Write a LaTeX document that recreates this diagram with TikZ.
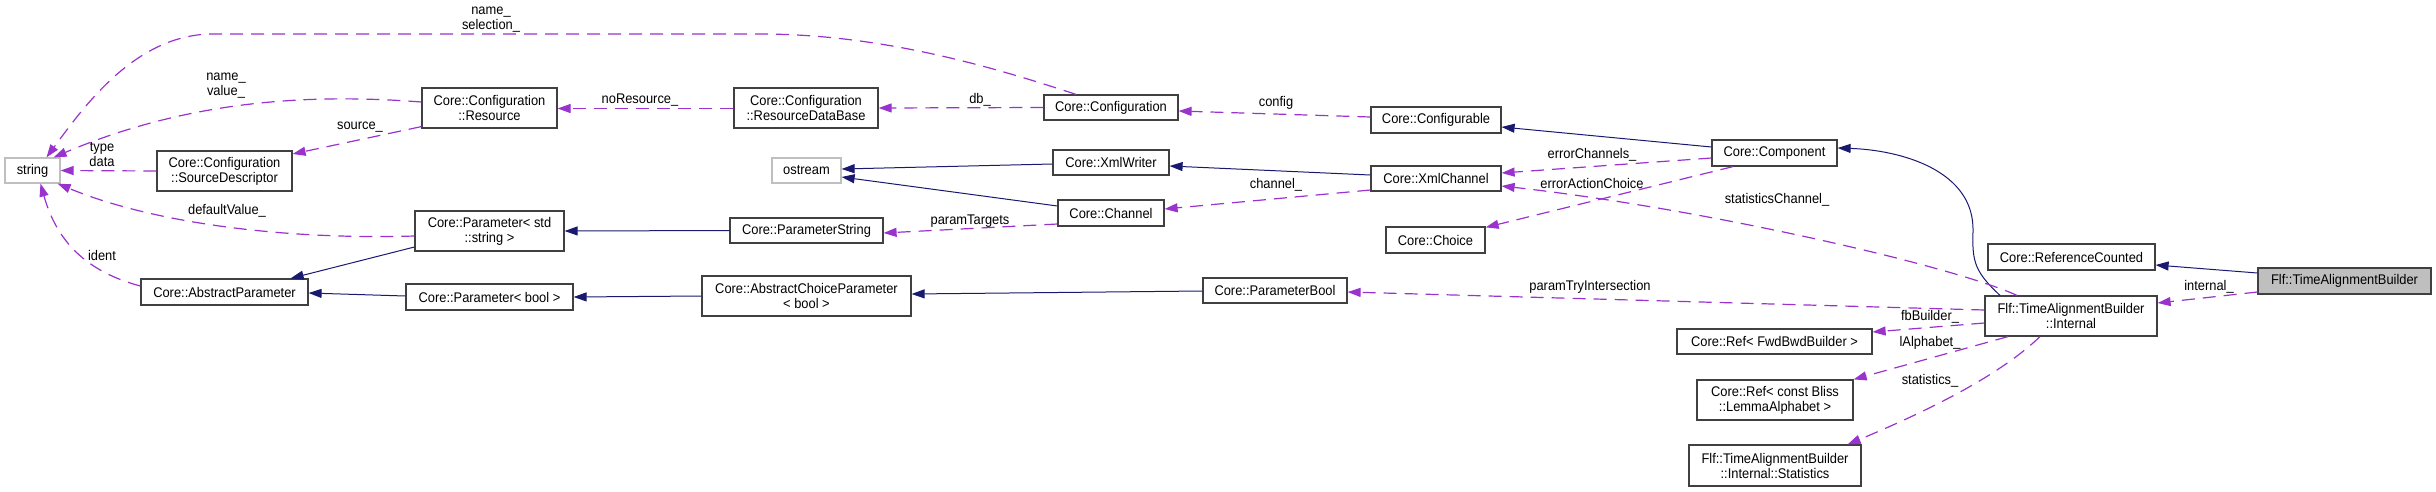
\documentclass[tikz,border=0pt]{standalone}
\usepackage{fontspec}
\setmainfont{Liberation Sans}[FakeStretch=0.92]
\usetikzlibrary{arrows.meta,calc}
\definecolor{edgeblue}{HTML}{191970}
\definecolor{edgepurple}{HTML}{9A32CD}
\definecolor{boxgray}{HTML}{BFBFBF}
\definecolor{boxline}{HTML}{404040}
\newcommand{\nf}{\fontsize{14}{15}\selectfont}
\tikzset{
  box/.style={draw=boxline, line width=1.2pt, fill=white, inner sep=0pt, align=center, font=\nf},
  graybox/.style={box, draw=boxgray},
  inh/.style={draw=edgeblue, line width=1pt, -{Triangle[length=13pt,width=9pt]}},
  use/.style={draw=edgepurple, line width=1.2pt, dash pattern=on 13pt off 8pt, -{Triangle[length=13pt,width=9pt]}},
  lbl/.style={font=\nf, align=center, inner sep=0pt},
}
\begin{document}
\begin{tikzpicture}[x=1pt,y=-1pt]
\useasboundingbox (0,0) rectangle (2436,491);
% nodes
\node[graybox, minimum width=55pt, minimum height=25pt] (str) at (32.5,170.5) {string};
\node[box, minimum width=135pt, minimum height=40pt] (srcd) at (224.5,171) {Core::Configuration\\::SourceDescriptor};
\node[box, minimum width=135pt, minimum height=40pt] (res) at (489.5,108) {Core::Configuration\\::Resource};
\node[box, minimum width=144pt, minimum height=40pt] (rdb) at (806,108) {Core::Configuration\\::ResourceDataBase};
\node[box, minimum width=134pt, minimum height=25pt] (conf) at (1111,107.5) {Core::Configuration};
\node[box, minimum width=130pt, minimum height=26pt] (cfgb) at (1436,120) {Core::Configurable};
\node[box, minimum width=125pt, minimum height=26pt] (comp) at (1774.5,153) {Core::Component};
\node[graybox, minimum width=69pt, minimum height=25pt] (ostr) at (806.5,170.5) {ostream};
\node[box, minimum width=116pt, minimum height=25pt] (xmlw) at (1111,162.5) {Core::XmlWriter};
\node[box, minimum width=130pt, minimum height=25pt] (xmlc) at (1436,178.5) {Core::XmlChannel};
\node[box, minimum width=106pt, minimum height=26pt] (chan) at (1111,213) {Core::Channel};
\node[box, minimum width=99pt, minimum height=26pt] (choice) at (1435.5,240) {Core::Choice};
\node[box, minimum width=149pt, minimum height=40pt] (pstr) at (489.5,231) {Core::Parameter< std\\::string >};
\node[box, minimum width=153pt, minimum height=25pt] (pstring) at (806.5,230.5) {Core::ParameterString};
\node[box, minimum width=167pt, minimum height=26pt] (absp) at (224.5,292) {Core::AbstractParameter};
\node[box, minimum width=167pt, minimum height=26pt] (pbool) at (489.5,297) {Core::Parameter< bool >};
\node[box, minimum width=209pt, minimum height=40pt] (acp) at (806.5,296) {Core::AbstractChoiceParameter\\< bool >};
\node[box, minimum width=144pt, minimum height=25pt] (pb) at (1275,290.5) {Core::ParameterBool};
\node[box, minimum width=167pt, minimum height=26pt] (refc) at (2071.5,257) {Core::ReferenceCounted};
\node[box, fill=boxgray, minimum width=173pt, minimum height=26pt] (tab) at (2344.5,281) {Flf::TimeAlignmentBuilder};
\node[box, minimum width=172pt, minimum height=40pt] (intl) at (2071,316) {Flf::TimeAlignmentBuilder\\::Internal};
\node[box, minimum width=195pt, minimum height=25pt] (fwd) at (1774.5,341.5) {Core::Ref< FwdBwdBuilder >};
\node[box, minimum width=156pt, minimum height=40pt] (lem) at (1775,400) {Core::Ref< const Bliss\\::LemmaAlphabet >};
\node[box, minimum width=172pt, minimum height=41pt] (stats) at (1775,465.5) {Flf::TimeAlignmentBuilder\\::Internal::Statistics};
% inheritance edges
\draw[inh] ($(xmlw.west)+(0,1.5)$) -- ($(ostr.east)+(0,-1.5)$);
\draw[inh] ($(chan.west)+(0,-7)$) -- ($(ostr.east)+(0,6.5)$);
\draw[inh] ($(xmlc.west)+(0,-3.5)$) -- ($(xmlw.east)+(0,3.5)$);
\draw[inh] ($(comp.west)+(0,-6)$) -- ($(cfgb.east)+(0,7)$);
\draw[inh] ($(intl.north)+(-71,0)$) .. controls (1975,272) and (1972,262) .. (1973,232) .. controls (1975,170) and (1900,150) .. ($(comp.east)+(0,-5)$);
\draw[inh] ($(tab.west)+(0,-8)$) -- ($(refc.east)+(0,8)$);
\draw[inh] ($(pstr.west)+(0,16)$) -- ($(absp.north east)+(-18,0)$);
\draw[inh] ($(pbool.west)+(0,-1)$) -- ($(absp.east)+(0,1)$);
\draw[inh] (pstring.west) -- (pstr.east);
\draw[inh] (acp.west) -- (pbool.east);
\draw[inh] ($(pb.west)+(0,0.5)$) -- ($(acp.east)+(0,-2)$);
% usage edges
\draw[use] ($(conf.north)+(-35,0)$) .. controls (990,66) and (880,34) .. (760,34) -- (210,34) .. controls (135,36) and (85,105) .. ($(str.north)+(14,0)$);
\node[lbl] (l1) at (491,19.5) {name\_\\selection\_};
\draw[use] ($(res.west)+(0,-6)$) .. controls (330,95) and (200,95) .. ($(str.north east)+(-7,0)$);
\node[lbl] (l2) at (226,86) {name\_\\value\_};
\draw[use] ($(res.south west)+(0,-2)$) -- ($(srcd.east)+(0,-17)$);
\node[lbl] (l3) at (360,127) {source\_};
\draw[use] (srcd.west) -- (str.east);
\node[lbl] (l4) at (102,155) {type\\data};
\draw[use] ($(pstr.west)+(0,5)$) .. controls (280,240) and (150,222) .. ($(str.south east)+(-3,0)$);
\node[lbl] (l5) at (227,211) {defaultValue\_};
\draw[use] ($(absp.west)+(0,-6)$) .. controls (80,270) and (55,235) .. ($(str.south)+(8,0)$);
\node[lbl] (l6) at (102,255) {ident};
\draw[use] ($(rdb.west)+(0,0.5)$) -- ($(res.east)+(0,0.5)$);
\node[lbl] (l7) at (640,100) {noResource\_};
\draw[use] (conf.west) -- (rdb.east);
\node[lbl] (l8) at (980,100) {db\_};
\draw[use] ($(cfgb.west)+(0,-3)$) -- ($(conf.east)+(0,3.5)$);
\node[lbl] (l9) at (1276,103) {config};
\draw[use] ($(comp.west)+(0,5)$) -- ($(xmlc.east)+(0,-5.5)$);
\node[lbl] (l10) at (1592,155) {errorChannels\_};
\draw[use] ($(comp.south)+(-41.5,0)$) -- ($(choice.north east)+(0,1)$);
\node[lbl] (l11) at (1592,183) {errorActionChoice};
\draw[use] ($(intl.north)+(-54,0)$) .. controls (1950,265) and (1700,208) .. ($(xmlc.east)+(0,7.5)$);
\node[lbl] (l12) at (1777,200) {statisticsChannel\_};
\draw[use] ($(xmlc.west)+(0,11.5)$) -- ($(chan.east)+(0,-4)$);
\node[lbl] (l13) at (1276,185) {channel\_};
\draw[use] ($(chan.west)+(0,11)$) -- ($(pstring.east)+(0,2.5)$);
\node[lbl] (l14) at (970,221) {paramTargets};
\draw[use] ($(intl.west)+(0,-6)$) -- ($(pb.east)+(0,1.5)$);
\node[lbl] (l15) at (1590,287) {paramTryIntersection};
\draw[use] ($(intl.west)+(0,7)$) -- ($(fwd.east)+(0,-9.5)$);
\node[lbl] (l16) at (1930,317) {fbBuilder\_};
\draw[use] ($(intl.south)+(-63,0)$) -- (lem.north east);
\node[lbl] (l17) at (1930,343) {lAlphabet\_};
\draw[use] ($(intl.south)+(-31,0)$) .. controls (2000,375) and (1930,410) .. ($(stats.north east)+(-14,0)$);
\node[lbl] (l18) at (1930,381) {statistics\_};
\draw[use] ($(tab.west)+(0,11)$) -- ($(intl.east)+(0,-13)$);
\node[lbl] (l19) at (2209,287) {internal\_};
\end{tikzpicture}
\end{document}
